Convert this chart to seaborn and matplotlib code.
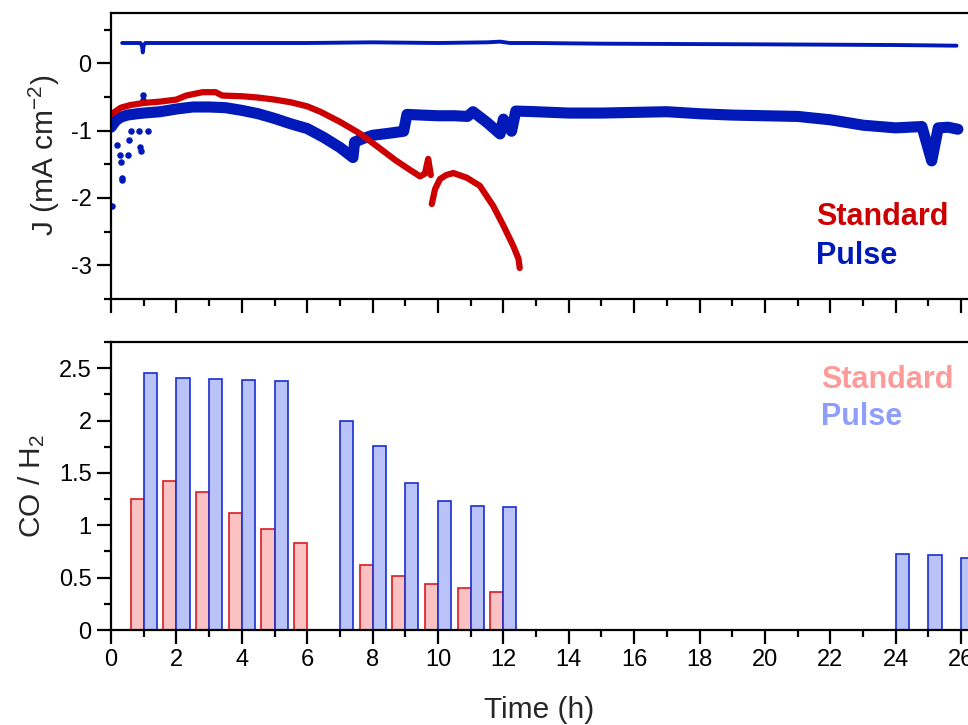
import numpy as np
import pandas as pd
import seaborn as sns
import matplotlib.pyplot as plt
from matplotlib.ticker import MultipleLocator

# --- top panel: current density traces ---
std_a_t = [0.0, 0.3, 0.6, 1.0, 1.5, 2.0, 2.3, 2.8, 3.2, 3.4, 4.0, 4.5, 5.0,
           5.5, 6.0, 6.4, 7.0, 7.6, 8.1, 8.7, 9.1, 9.45, 9.6, 9.7, 9.78]
std_a_j = [-0.76, -0.66, -0.62, -0.59, -0.57, -0.54, -0.48, -0.43, -0.43,
           -0.48, -0.49, -0.51, -0.54, -0.58, -0.64, -0.72, -0.87, -1.04,
           -1.22, -1.44, -1.57, -1.68, -1.64, -1.42, -1.66]
std_b_t = [9.81, 9.91, 10.06, 10.25, 10.47, 10.88, 11.28, 11.69, 12.0,
           12.3, 12.46, 12.5]
std_b_j = [-2.09, -1.87, -1.72, -1.66, -1.63, -1.70, -1.82, -2.12, -2.41,
           -2.71, -2.90, -3.04]

pulse_t = [0.0, 0.15, 0.3, 0.5, 0.8, 1.0, 1.5, 2.0, 2.5, 3.0, 3.5, 4.0,
           4.5, 5.0, 5.5, 6.0, 6.5, 7.0, 7.4, 7.45, 7.7, 8.0, 8.5, 8.95,
           9.05, 9.5, 10.0, 10.5, 10.9, 11.07, 11.5, 11.9, 12.0, 12.25,
           12.38, 13, 14, 15, 16, 17, 18, 19, 20, 21, 22, 23, 24, 24.8,
           25.1, 25.3, 25.6, 25.9]
pulse_j = [-0.95, -0.85, -0.80, -0.77, -0.75, -0.74, -0.72, -0.68, -0.65,
           -0.65, -0.66, -0.70, -0.75, -0.82, -0.90, -0.97, -1.10, -1.25,
           -1.40, -1.17, -1.12, -1.07, -1.04, -1.01, -0.76, -0.77, -0.78,
           -0.78, -0.79, -0.72, -0.88, -1.05, -0.83, -1.01, -0.71, -0.72,
           -0.74, -0.74, -0.73, -0.72, -0.75, -0.77, -0.78, -0.79, -0.84,
           -0.92, -0.96, -0.94, -1.45, -0.96, -0.95, -0.98]

pulse_hi_t = [0.34, 0.9, 0.95, 0.97, 1.0, 1.05, 2, 4, 6, 8, 10, 11.5,
              11.9, 12.2, 13, 15, 17.4, 20, 22, 24, 25, 25.86]
pulse_hi_j = [0.30, 0.30, 0.25, 0.16, 0.27, 0.30, 0.30, 0.30, 0.30, 0.31,
              0.30, 0.31, 0.32, 0.30, 0.30, 0.29, 0.285, 0.28, 0.275, 0.27,
              0.265, 0.26]

# stray points at the start of the pulse run
spike_t = [0.02, 0.17, 0.28, 0.3, 0.33, 0.35, 0.52, 0.55, 0.6, 0.86, 0.9,
           0.92, 0.98, 0.99, 1.13]
spike_j = [-2.12, -1.21, -1.36, -1.46, -1.73, -1.70, -1.36, -1.14, -1.0,
           -1.0, -1.25, -1.31, -0.47, -0.55, -1.01]

# --- bottom panel: CO / H2 ratio ---
std_bar_t = [0.8, 1.8, 2.8, 3.8, 4.8, 5.8, 7.8, 8.8, 9.8, 10.8, 11.8]
std_bar_v = [1.25, 1.42, 1.32, 1.12, 0.96, 0.83, 0.62, 0.52, 0.44, 0.40, 0.36]
pulse_bar_t = [1.2, 2.2, 3.2, 4.2, 5.2, 7.2, 8.2, 9.2, 10.2, 11.2, 12.2,
               24.2, 25.2, 26.2]
pulse_bar_v = [2.45, 2.41, 2.40, 2.39, 2.38, 2.00, 1.76, 1.40, 1.23, 1.18,
               1.17, 0.73, 0.72, 0.69]

RED = '#CC0000'
BLUE = '#0019B8'

sns.set_theme(style='ticks')
plt.rcParams['font.family'] = ['Liberation Sans', 'DejaVu Sans']
plt.rcParams['mathtext.fontset'] = 'custom'
plt.rcParams['mathtext.rm'] = 'Liberation Sans'
plt.rcParams['mathtext.default'] = 'regular'
plt.rcParams['axes.unicode_minus'] = False

fig = plt.figure(figsize=(9.68, 7.25), dpi=100)
ax1 = fig.add_axes([0.1147, 0.5876, 0.8853, 0.3949])
ax2 = fig.add_axes([0.1147, 0.1310, 0.8853, 0.3973])

sns.lineplot(x=pulse_hi_t, y=pulse_hi_j, sort=False, estimator=None,
             color=BLUE, linewidth=2.8, ax=ax1)
sns.lineplot(x=pulse_t, y=pulse_j, sort=False, estimator=None,
             color=BLUE, linewidth=8, ax=ax1)
sns.scatterplot(x=spike_t, y=spike_j, color=BLUE, s=22, linewidth=0, ax=ax1)
sns.lineplot(x=std_a_t, y=std_a_j, sort=False, estimator=None,
             color=RED, linewidth=4.5, ax=ax1)
sns.lineplot(x=std_b_t, y=std_b_j, sort=False, estimator=None,
             color=RED, linewidth=4.5, ax=ax1)

sns.barplot(x=std_bar_t, y=std_bar_v, native_scale=True, width=0.4,
            color='#FBC2C4', edgecolor='#DD1A22', linewidth=1.2,
            saturation=1, errorbar=None, ax=ax2)
sns.barplot(x=pulse_bar_t, y=pulse_bar_v, native_scale=True, width=0.4,
            color='#BAC3F8', edgecolor='#1A2ECF', linewidth=1.2,
            saturation=1, errorbar=None, ax=ax2)

for ax in (ax1, ax2):
    ax.set_xlim(0, 26.21)
    ax.xaxis.set_major_locator(MultipleLocator(2))
    ax.xaxis.set_minor_locator(MultipleLocator(1))
    ax.spines['right'].set_visible(False)
    for s in ('left', 'bottom', 'top'):
        ax.spines[s].set_linewidth(1.6)
        ax.spines[s].set_color('black')
    ax.tick_params(which='major', direction='out', length=10, width=1.6,
                   labelsize=17, pad=4, colors='black')
    ax.tick_params(which='minor', direction='out', length=5, width=1.6,
                   colors='black')

ax1.set_ylim(-3.5, 0.75)
ax1.yaxis.set_major_locator(MultipleLocator(1))
ax1.yaxis.set_minor_locator(MultipleLocator(0.5))
ax1.tick_params(axis='x', which='both', labelbottom=False)
ax1.set_ylabel('J (mA cm$^{-2}$)', fontsize=21.5)
ax1.yaxis.set_label_coords(-0.057, 0.5)

ax2.set_ylim(0, 2.75)
ax2.yaxis.set_major_locator(MultipleLocator(0.5))
ax2.yaxis.set_minor_locator(MultipleLocator(0.25))
ax2.set_yticks([0, 0.5, 1, 1.5, 2, 2.5])
ax2.set_yticklabels(['0', '0.5', '1', '1.5', '2', '2.5'])
ax2.set_ylabel('CO / H$_2$', fontsize=21.5)
ax2.yaxis.set_label_coords(-0.075, 0.5)
ax2.set_xlabel('Time (h)', fontsize=21.5, labelpad=18)

fig.text(816 / 968, 1 - 225 / 725, 'Standard', color=RED, fontsize=22,
         fontweight='bold', va='baseline')
fig.text(816 / 968, 1 - 264 / 725, 'Pulse', color=BLUE, fontsize=22,
         fontweight='bold', va='baseline')
fig.text(821 / 968, 1 - 388 / 725, 'Standard', color='#FF9A9A',
         fontsize=22, fontweight='bold', va='baseline')
fig.text(821 / 968, 1 - 425 / 725, 'Pulse', color='#8F9EFB',
         fontsize=22, fontweight='bold', va='baseline')

fig.savefig('out.png', dpi=100)
